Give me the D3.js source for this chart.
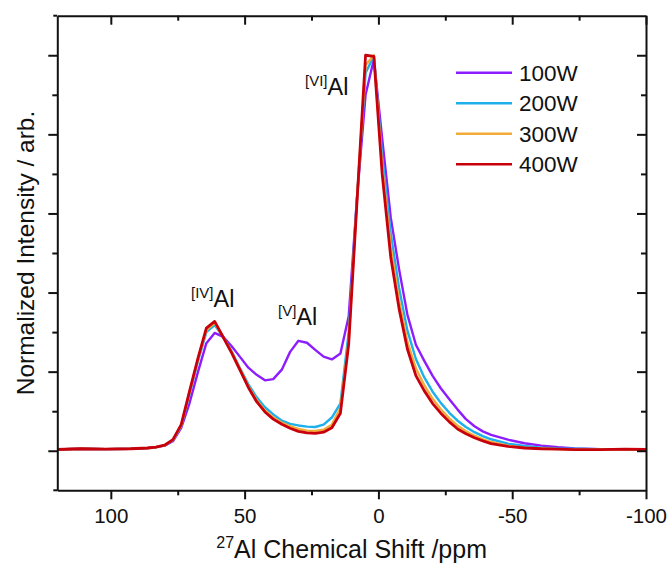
<!DOCTYPE html>
<html>
<head>
<meta charset="utf-8">
<script src="https://cdn.jsdelivr.net/npm/d3@7"></script>
<style>
  html, body { margin: 0; padding: 0; background: #fff; }
  svg text { font-family: "Liberation Sans", Arial, Helvetica, sans-serif; fill: #111; }
</style>
</head>
<body>
<svg id="chart" width="667" height="566"></svg>
<script>
// 27Al MAS NMR spectra, normalized intensity vs chemical shift (ppm)
const shift = [120.6, 111.3, 101.9, 92.5, 86.2, 83.1, 79.9, 76.8, 73.7, 70.6, 67.4, 64.3, 61.2, 58.0,
  54.9, 51.8, 48.6, 45.5, 42.4, 39.3, 36.1, 33.0, 29.9, 26.7, 23.6, 20.5, 17.4, 14.2, 11.1, 8.0,
  4.8, 1.7, -1.4, -4.6, -7.7, -10.8, -14.0, -17.1, -20.2, -23.3, -26.5, -29.6, -32.7, -35.9,
  -39.0, -42.1, -48.4, -54.6, -60.9, -67.2, -73.4, -82.8, -92.2, -101.6];

const w100 = [0.003, 0.005, 0.004, 0.005, 0.007, 0.009, 0.013, 0.024, 0.058, 0.120, 0.200, 0.272, 0.298, 0.288,
  0.265, 0.238, 0.210, 0.192, 0.178, 0.181, 0.205, 0.250, 0.278, 0.273, 0.255, 0.238, 0.231, 0.246, 0.340, 0.640,
  0.900, 0.990, 0.790, 0.590, 0.460, 0.345, 0.268, 0.228, 0.190, 0.158, 0.130, 0.104, 0.080, 0.062,
  0.049, 0.040, 0.028, 0.019, 0.013, 0.009, 0.006, 0.004, 0.003, 0.003];

const w200 = [0.003, 0.005, 0.004, 0.005, 0.007, 0.009, 0.014, 0.026, 0.062, 0.143, 0.228, 0.300, 0.318, 0.288,
  0.252, 0.210, 0.168, 0.135, 0.110, 0.092, 0.076, 0.068, 0.064, 0.061, 0.060, 0.066, 0.084, 0.120, 0.300, 0.640,
  0.955, 0.998, 0.745, 0.550, 0.412, 0.305, 0.232, 0.186, 0.150, 0.121, 0.096, 0.076, 0.060, 0.047,
  0.037, 0.029, 0.018, 0.012, 0.008, 0.006, 0.005, 0.004, 0.003, 0.003];

const w300 = [0.003, 0.005, 0.004, 0.005, 0.007, 0.009, 0.014, 0.027, 0.064, 0.147, 0.232, 0.305, 0.323, 0.288,
  0.250, 0.207, 0.163, 0.128, 0.102, 0.084, 0.071, 0.062, 0.055, 0.051, 0.050, 0.053, 0.066, 0.108, 0.280, 0.635,
  0.975, 1.000, 0.720, 0.515, 0.380, 0.276, 0.208, 0.166, 0.132, 0.105, 0.082, 0.063, 0.049, 0.038,
  0.029, 0.022, 0.013, 0.008, 0.006, 0.004, 0.003, 0.003, 0.003, 0.003];

const w400 = [0.003, 0.005, 0.004, 0.005, 0.007, 0.009, 0.014, 0.028, 0.066, 0.150, 0.235, 0.310, 0.327, 0.287,
  0.248, 0.205, 0.160, 0.124, 0.098, 0.080, 0.067, 0.057, 0.049, 0.045, 0.044, 0.047, 0.058, 0.095, 0.270, 0.630,
  1.000, 0.997, 0.700, 0.490, 0.360, 0.258, 0.190, 0.152, 0.120, 0.095, 0.073, 0.055, 0.043, 0.033,
  0.025, 0.018, 0.011, 0.007, 0.005, 0.004, 0.003, 0.003, 0.004, 0.003];

const seriesNames = ["100W", "200W", "300W", "400W"];
const seriesValues = [w100, w200, w300, w400];
const seriesColors = ["#8e1dfd", "#1eb0ea", "#f2aa38", "#c8000c"];

const xMajorTicks = [100, 50, 0, -50, -100];
const xTickLabels = ["100", "50", "0", "-50", "-100"];
const xMinorTicks = [75, 25, -25, -75];
const yMajorTicks = [0, 0.2, 0.4, 0.6, 0.8, 1.0];
const yMinorTicks = [0.1, 0.3, 0.5, 0.7, 0.9];

const peakSites = ["IV", "V", "VI"];

const svg = d3.select("#chart");
const plot = { left: 57.3, right: 646, top: 15.7, bottom: 490.3 };

const x = d3.scaleLinear().domain([120, -100]).range([plot.left, plot.right]);
const y = d3.scaleLinear().domain([-0.1, 1.1]).range([plot.bottom, plot.top]);

svg.append("defs").append("clipPath").attr("id", "plot-clip")
  .append("rect")
  .attr("x", plot.left).attr("y", plot.top)
  .attr("width", plot.right - plot.left).attr("height", plot.bottom - plot.top);

// spectra (400W drawn last, on top)
const line = d3.line().x(d => x(d[0])).y(d => y(d[1]));
const traces = svg.append("g").attr("clip-path", "url(#plot-clip)");
seriesValues.forEach((vals, i) => {
  traces.append("path")
    .datum(shift.map((s, k) => [s, vals[k]]))
    .attr("fill", "none")
    .attr("stroke", seriesColors[i])
    .attr("stroke-width", i === 3 ? 2.8 : 2.4)
    .attr("stroke-linejoin", "round")
    .attr("stroke-linecap", "round")
    .attr("d", line);
});

// axes and frame
function styleAxis(g) {
  g.select(".domain").attr("stroke", "#111").attr("stroke-width", 2);
  g.selectAll(".tick line").attr("stroke", "#111").attr("stroke-width", 2);
}

const axisB = svg.append("g").attr("transform", `translate(0,${plot.bottom})`)
  .call(d3.axisBottom(x).tickValues(xMajorTicks).tickSize(9).tickSizeOuter(0).tickPadding(9)
    .tickFormat((d, i) => xTickLabels[i]));
axisB.call(styleAxis);
axisB.selectAll(".tick text").attr("font-size", 20.5).attr("fill", "#111")
  .style("font-family", '"Liberation Sans", Arial, sans-serif');
svg.append("g").attr("transform", `translate(0,${plot.bottom})`)
  .call(d3.axisBottom(x).tickValues(xMinorTicks).tickSize(5).tickFormat(""))
  .call(styleAxis).select(".domain").remove();

const axisT = svg.append("g").attr("transform", `translate(0,${plot.top})`)
  .call(d3.axisTop(x).tickValues(xMajorTicks).tickSize(-9).tickSizeOuter(0).tickFormat(""));
axisT.call(styleAxis);
svg.append("g").attr("transform", `translate(0,${plot.top})`)
  .call(d3.axisTop(x).tickValues(xMinorTicks).tickSize(-5).tickFormat(""))
  .call(styleAxis).select(".domain").remove();

const axisL = svg.append("g").attr("transform", `translate(${plot.left},0)`)
  .call(d3.axisLeft(y).tickValues(yMajorTicks).tickSize(9).tickSizeOuter(0).tickFormat(""));
axisL.call(styleAxis);
svg.append("g").attr("transform", `translate(${plot.left},0)`)
  .call(d3.axisLeft(y).tickValues(yMinorTicks).tickSize(5).tickFormat(""))
  .call(styleAxis).select(".domain").remove();

const axisR = svg.append("g").attr("transform", `translate(${plot.right},0)`)
  .call(d3.axisRight(y).tickValues(yMajorTicks).tickSize(-9).tickSizeOuter(0).tickFormat(""));
axisR.call(styleAxis);
svg.append("g").attr("transform", `translate(${plot.right},0)`)
  .call(d3.axisRight(y).tickValues(yMinorTicks).tickSize(-5).tickFormat(""))
  .call(styleAxis).select(".domain").remove();

// short overhang of the horizontal frame lines past the left axis
[plot.top, plot.bottom].forEach(py => {
  svg.append("line").attr("x1", plot.left - 4).attr("x2", plot.left)
    .attr("y1", py).attr("y2", py).attr("stroke", "#111").attr("stroke-width", 2);
});

// axis titles
const xTitle = svg.append("text")
  .attr("x", (plot.left + plot.right) / 2).attr("y", 558)
  .attr("text-anchor", "middle").attr("font-size", 25);
xTitle.append("tspan").attr("font-size", 16).attr("dy", -10).text("27");
xTitle.append("tspan").attr("dy", 10).text("Al Chemical Shift /ppm");

svg.append("text")
  .attr("transform", `translate(34,${(plot.top + plot.bottom) / 2}) rotate(-90)`)
  .attr("text-anchor", "middle").attr("font-size", 24.5)
  .text("Normalized Intensity / arb.");

// peak assignments
const labelPos = { IV: [191, 307], V: [278, 325], VI: [305, 95] };
peakSites.forEach(site => {
  const [lx, ly] = labelPos[site];
  const t = svg.append("text").attr("x", lx).attr("y", ly).attr("font-size", 23.5);
  t.append("tspan").attr("font-size", 15).attr("dy", -9).text(`[${site}]`);
  t.append("tspan").attr("dy", 9).text("Al");
});

// legend
const legend = svg.append("g");
seriesNames.forEach((name, i) => {
  const ly = 72.7 + i * 30.5;
  legend.append("line")
    .attr("x1", 456).attr("x2", 512).attr("y1", ly).attr("y2", ly)
    .attr("stroke", seriesColors[i]).attr("stroke-width", 2.6);
  legend.append("text")
    .attr("x", 519).attr("y", ly).attr("dy", "0.36em")
    .attr("font-size", 22.5).text(name);
});
</script>
</body>
</html>
